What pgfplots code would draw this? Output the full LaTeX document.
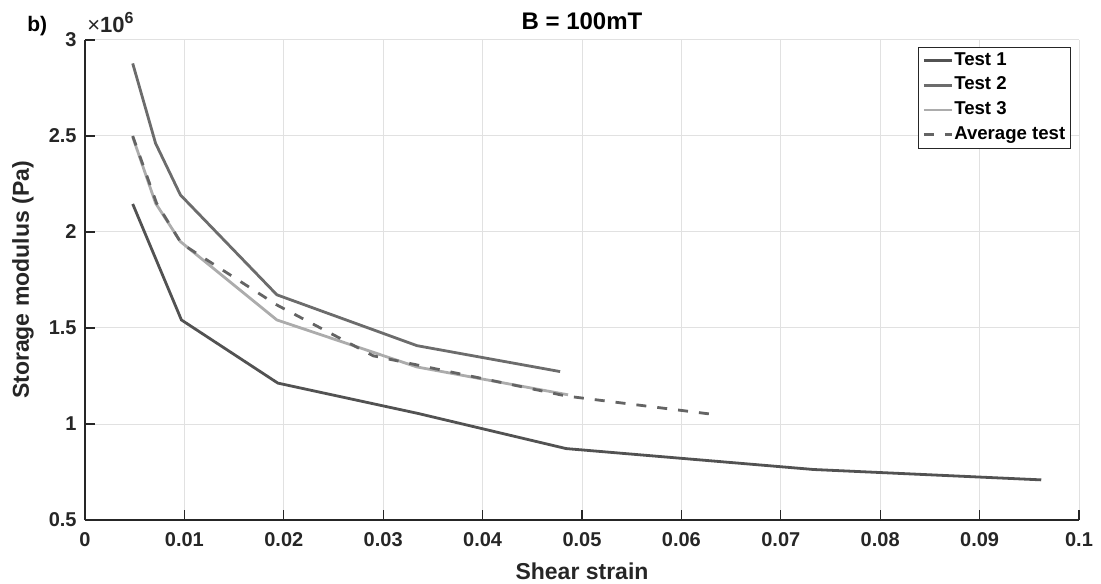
\documentclass[border=0pt]{standalone}
\usepackage{pgfplots}
\pgfplotsset{compat=1.18}
\usepackage{fontspec}
\setmainfont{Liberation Sans}
\definecolor{axcol}{RGB}{38,38,38}
\definecolor{gridcol}{RGB}{225,225,225}
\definecolor{cA}{RGB}{82,82,82}
\definecolor{cB}{RGB}{108,108,108}
\definecolor{cC}{RGB}{172,172,172}
\definecolor{cD}{RGB}{100,100,100}
\begin{document}
\begin{tikzpicture}
\useasboundingbox (-42.5pt,-31.5pt) rectangle (508pt,260pt);
\begin{axis}[
  at={(0pt,0pt)}, anchor=south west,
  scale only axis, width=497pt, height=240pt,
  xmin=0, xmax=0.1, ymin=0.5, ymax=3,
  axis x line*=bottom, axis y line*=left,
  axis line style={axcol, line width=0.6pt},
  tick align=inside, major tick length=5pt,
  tick style={axcol, line width=0.6pt},
  xtick={0,0.01,0.02,0.03,0.04,0.05,0.06,0.07,0.08,0.09,0.1},
  xticklabels={0,0.01,0.02,0.03,0.04,0.05,0.06,0.07,0.08,0.09,0.1},
  ytick={0.5,1,1.5,2,2.5,3},
  yticklabels={0.5,1,1.5,2,2.5,3},
  grid=major, major grid style={gridcol, line width=0.5pt},
  xticklabel style={font=\fontsize{10}{12}\selectfont\bfseries, text=axcol, anchor=center, inner sep=0pt, yshift=-10pt},
  yticklabel style={font=\fontsize{10}{12}\selectfont\bfseries, text=axcol, anchor=east, inner sep=0pt, xshift=-4pt},
  xlabel={Shear strain}, ylabel={Storage modulus (Pa)},
  xlabel style={font=\fontsize{11.5}{13}\selectfont\bfseries, text=axcol, at={(0.5,-0.106)}, anchor=center},
  ylabel style={font=\fontsize{11.5}{13}\selectfont\bfseries, text=axcol, at={(-0.0624,0.5)}, anchor=center},
  title={B = 100mT},
  title style={font=\fontsize{12}{14}\selectfont\bfseries, text=black, at={(0.5,1.0396)}, anchor=center, yshift=-6pt},
  legend image code/.code={\draw[line width=1.4pt,#1] (0pt,0pt) -- (14pt,0pt);},
  legend cell align=left,
  legend style={at={(0.9916,0.986)}, anchor=north east, draw=axcol,
    font=\fontsize{9.3}{11}\selectfont\bfseries, text=black, inner xsep=2pt, inner ysep=2.2pt,
    row sep=3.6pt,
    nodes={inner xsep=0.5pt, inner ysep=0pt, text height=6.8pt, text depth=2pt}},
  clip=false,
]
\addplot[cA, line width=1.4pt] coordinates {(0.0048,2.146) (0.0097,1.542) (0.0194,1.213) (0.0335,1.055) (0.0484,0.872) (0.0733,0.763) (0.0962,0.709)};
\addlegendentry{Test 1}
\addplot[cB, line width=1.4pt] coordinates {(0.0048,2.878) (0.0071,2.462) (0.0096,2.193) (0.0193,1.673) (0.0334,1.408) (0.0478,1.273)};
\addlegendentry{Test 2}
\addplot[cC, line width=1.4pt] coordinates {(0.0048,2.495) (0.0071,2.15) (0.0096,1.950) (0.0193,1.542) (0.0334,1.297) (0.0486,1.152)};
\addlegendentry{Test 3}
\addplot[cD, line width=1.4pt, dash pattern=on 5pt off 5.5pt] coordinates {(0.0048,2.50) (0.0072,2.15) (0.0097,1.94) (0.0193,1.62) (0.029,1.355) (0.0485,1.145) (0.0632,1.05)};
\addlegendentry{Average test}
\node[anchor=base west, inner sep=0pt, font=\fontsize{11}{13}\selectfont, text=axcol] at (rel axis cs:0,1) [xshift=1pt, yshift=3.5pt] {×\textbf{10}\raisebox{0.45em}{\fontsize{8}{9}\selectfont\textbf{6}}};
\node[anchor=base west, inner sep=0pt, font=\fontsize{10.5}{12}\selectfont\bfseries, text=black] at (rel axis cs:0,1) [xshift=-29pt, yshift=4pt] {b)};
\end{axis}
\end{tikzpicture}
\end{document}
